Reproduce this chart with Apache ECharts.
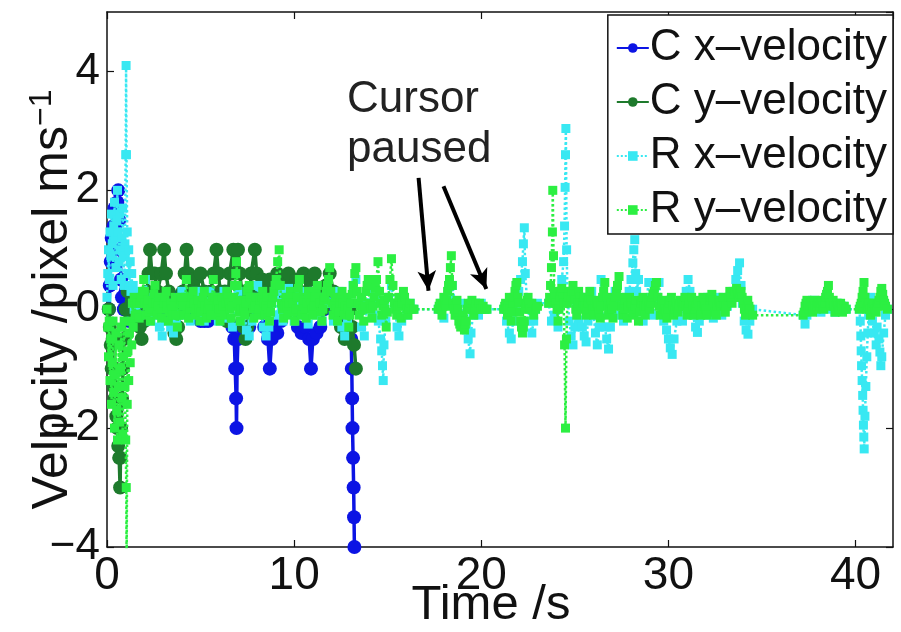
<!DOCTYPE html>
<html>
<head>
<meta charset="utf-8">
<script src="https://cdn.jsdelivr.net/npm/echarts@6/dist/echarts.min.js"></script>
<style>html,body{margin:0;padding:0;background:#fff}#c{width:901px;height:632px}</style>
</head>
<body>
<div id="c"></div>
<script>
// ---- data: [time (s), velocity (pixel/ms)] ----
const seriesNames = ['C x–velocity', 'C y–velocity', 'R x–velocity', 'R y–velocity'];

const cxVel = [[0.1,0],[0.15,0.4],[0.2,0.8],[0.25,1.2],[0.3,1.0],[0.35,1.4],[0.4,1.7],[0.45,1.4],[0.5,1.6],[0.55,1.8],[0.6,2.0],[0.65,1.5],[0.7,1.0],[0.75,0.5],[0.8,0.2],[0.9,0],[1.0,0.3],[1.1,0],[1.2,-0.2],[1.4,0],[1.6,0.2],[1.8,0],[2.0,0.1],[2.2,0],[2.5,0.2],[2.8,0],[3.0,-0.1],[3.3,0],[3.6,0.2],[3.9,0],[4.2,0.1],[4.5,0],[4.8,-0.1],[5.0,-0.2],[5.2,-0.2],[5.4,-0.2],[5.6,0],[5.9,0.2],[6.2,0],[6.5,-0.2],[6.7,-0.3],[6.8,-0.5],[6.85,-1.0],[6.9,-1.5],[6.92,-2.0],[6.95,-1.0],[7.0,-0.5],[7.2,-0.3],[7.4,-0.4],[7.6,-0.3],[7.8,0],[8.0,0.2],[8.2,0],[8.4,-0.3],[8.6,-0.5],[8.7,-1.0],[8.8,-0.5],[8.9,-0.3],[9.1,-0.4],[9.3,-0.2],[9.5,0],[9.8,0.2],[10.0,0],[10.2,-0.3],[10.4,-0.4],[10.6,-0.3],[10.8,-0.5],[10.9,-1.0],[11.0,-0.5],[11.2,-0.4],[11.4,-0.3],[11.6,0],[11.9,0.2],[12.2,0],[12.5,-0.2],[12.8,-0.4],[13.0,0],[13.05,-0.5],[13.08,-1.0],[13.1,-1.5],[13.12,-2.0],[13.15,-2.5],[13.18,-3.0],[13.2,-3.5],[13.22,-4.0]];

const cyVel = [[0.1,0],[0.15,-0.3],[0.2,-0.6],[0.25,-1.0],[0.3,-0.5],[0.35,-1.3],[0.4,-1.5],[0.45,-1.0],[0.5,-1.8],[0.55,-2.0],[0.6,-2.3],[0.65,-2.5],[0.7,-3.0],[0.72,-2.5],[0.75,-2.0],[0.8,-1.5],[0.85,-1.0],[0.9,-0.5],[1.0,0],[1.1,0.3],[1.2,0],[1.4,-0.2],[1.6,0],[1.75,-0.3],[1.85,-0.5],[2.0,-0.2],[2.15,0.3],[2.22,0.6],[2.3,1.0],[2.4,0.6],[2.55,0.6],[2.7,0.3],[2.9,0.6],[3.05,1.0],[3.15,0.6],[3.3,0.3],[3.45,-0.2],[3.6,-0.4],[3.7,-0.5],[3.8,-0.3],[3.9,0],[4.05,0.3],[4.15,0.6],[4.25,1.0],[4.35,0.6],[4.45,0.3],[4.6,0.5],[4.8,0.3],[5.0,0.6],[5.2,0.3],[5.4,0],[5.55,0.3],[5.7,0.6],[5.85,1.0],[5.95,0.6],[6.05,0.3],[6.15,0],[6.3,0.3],[6.4,-0.2],[6.55,0.6],[6.65,0.6],[6.75,1.0],[6.85,0.6],[7.0,1.0],[7.1,0.6],[7.2,0.3],[7.3,-0.3],[7.4,-0.5],[7.5,-0.3],[7.6,0],[7.7,0.6],[7.8,0.6],[7.9,1.0],[8.0,0.6],[8.1,0.3],[8.3,0.5],[8.5,0.3],[8.7,0.5],[8.9,0.3],[9.1,0.6],[9.3,0.3],[9.5,0.5],[9.7,0.6],[9.9,0.3],[10.1,0.5],[10.3,0.3],[10.5,0.6],[10.7,0.3],[10.9,0.5],[11.1,0.6],[11.3,0.3],[11.5,0],[11.7,0.4],[11.9,0.6],[12.1,0.3],[12.3,0],[12.5,-0.3],[12.7,-0.5],[12.8,-0.4],[13.0,0],[13.1,-0.3],[13.2,-0.6],[13.3,-1.0]];

const rxVel = [[0.0,0.2],[0.04,0.6],[0.08,1.0],[0.12,0.5],[0.16,1.3],[0.2,0.9],[0.24,1.6],[0.28,1.1],[0.32,0.4],[0.36,1.4],[0.4,1.8],[0.44,1.2],[0.48,0.7],[0.52,1.5],[0.56,2.0],[0.6,1.3],[0.64,0.8],[0.68,1.6],[0.72,1.0],[0.76,0.5],[0.8,1.2],[0.84,1.7],[0.88,0.9],[0.92,0.4],[0.96,1.1],[1.0,2.6],[1.02,4.1],[1.04,2.6],[1.08,1.3],[1.12,0.6],[1.16,1.0],[1.2,0.4],[1.24,0.8],[1.28,0.3],[1.32,0.6],[1.36,0.1],[1.4,0.4],[1.45,0],[1.5,0.2],
[1.6,0.3],[1.75,-0.1],[1.9,0.2],[2.05,0.5],[2.2,0.1],[2.35,-0.2],[2.5,0.2],[2.65,-0.1],[2.8,-0.3],[2.95,-0.45],[3.1,-0.2],[3.25,0.1],[3.4,-0.3],[3.55,-0.4],[3.7,-0.2],[3.85,0.1],[4.0,0.3],[4.15,-0.1],[4.3,0.2],[4.45,-0.2],[4.6,0.1],[4.75,0.3],[4.9,-0.1],[5.05,0.2],[5.2,-0.2],[5.35,0.1],[5.5,0.3],[5.65,-0.1],[5.8,0.2],[5.95,-0.2],[6.1,0.1],[6.25,0.3],[6.4,-0.15],[6.55,0.2],[6.7,-0.3],[6.85,0.1],[7.0,0.3],[7.15,-0.2],[7.3,0.1],[7.45,-0.35],[7.6,-0.45],[7.75,-0.2],[7.9,0.2],[8.05,0.4],[8.2,0.1],[8.35,-0.3],[8.5,-0.45],[8.65,-0.3],[8.8,0.1],[8.95,0.2],[9.1,-0.1],[9.25,0.3],[9.4,-0.2],[9.55,0.1],[9.7,0.35],[9.85,0.1],[10.0,-0.2],[10.15,0.1],[10.3,0.3],[10.45,-0.1],[10.6,0.2],[10.75,-0.25],[10.9,0.1],[11.05,0.3],[11.2,-0.1],[11.35,0.2],[11.5,-0.2],[11.65,0.1],[11.8,0.3],[11.95,0.1],[12.1,-0.2],[12.25,0.1],[12.4,0.3],[12.55,-0.3],[12.7,-0.45],[12.85,-0.2],[13.0,0.1],[13.15,0.4],[13.3,0.5],[13.45,0.1],[13.6,-0.3],[13.75,-0.45],[13.9,0.1],[14.05,0.3],[14.2,-0.1],[14.35,0.2],[14.5,-0.2],[14.62,-0.5],[14.68,-0.7],[14.72,-0.95],[14.76,-1.2],[14.8,-0.6],[14.9,-0.2],[15.05,0.2],[15.2,0.4],[15.35,0.1],[15.5,-0.3],[15.6,-0.45],[15.75,-0.2],[15.9,0.1],[16.05,-0.1],[16.2,0.1],[16.4,0],
[17.7,0],[17.85,0.1],[18.0,-0.15],[18.15,0.1],[18.3,0.2],[18.45,0.4],[18.6,0.1],[18.75,-0.1],[18.9,0.1],[19.05,-0.2],[19.2,-0.35],[19.3,-0.5],[19.4,-0.75],[19.45,-0.4],[19.55,-0.1],[19.7,0.1],[19.85,-0.1],[20.0,0.1],[20.15,0],[20.3,0],
[21.2,0],[21.35,-0.2],[21.5,-0.4],[21.6,-0.5],[21.7,-0.2],[21.85,0.1],[22.0,0.3],[22.1,0.5],[22.2,0.8],[22.25,1.1],[22.3,1.37],[22.35,0.6],[22.45,0.1],[22.6,-0.2],[22.7,-0.4],[22.8,-0.2],[22.9,0],[23.0,0.1],
[23.6,0.1],[23.75,-0.2],[23.9,-0.1],[24.0,0.1],[24.1,-0.3],[24.2,0.2],[24.3,0.5],[24.4,0.8],[24.45,1.4],[24.48,2.05],[24.5,2.6],[24.52,3.04],[24.56,1.0],[24.6,0.3],[24.7,-0.2],[24.8,-0.45],[24.9,-0.6],[25.0,-0.3],[25.1,0.1],[25.2,-0.2],[25.3,0.2],[25.4,-0.3],[25.5,-0.45],[25.6,-0.55],[25.7,-0.2],[25.8,0.1],[25.9,0.3],[26.0,-0.1],[26.1,-0.4],[26.2,-0.6],[26.3,-0.3],[26.4,0.5],[26.5,0.1],[26.6,-0.3],[26.7,-0.5],[26.8,-0.67],[26.9,-0.3],[27.0,0.1],[27.15,0.3],[27.3,-0.1],[27.45,0.2],[27.6,-0.2],[27.75,0.1],[27.9,0.3],[28.0,0.5],[28.1,0.78],[28.15,1.0],[28.2,1.17],[28.25,0.6],[28.3,0.3],[28.4,0.5],[28.5,0.1],[28.65,-0.2],[28.8,0.1],[28.95,0.45],[29.05,0.2],[29.2,-0.1],[29.35,0.2],[29.5,0.45],[29.6,0.1],[29.75,-0.2],[29.9,-0.35],[30.0,-0.5],[30.1,-0.65],[30.2,-0.76],[30.3,-0.5],[30.45,-0.2],[30.6,0.1],[30.75,-0.2],[30.85,0.1],[30.95,0.3],[31.05,0.5],[31.15,0.3],[31.3,-0.1],[31.45,-0.3],[31.55,-0.39],[31.65,-0.2],[31.8,0.1],[31.95,-0.1],[32.1,0.2],[32.25,0.05],[32.4,-0.15],[32.55,0.1],[32.7,0.2],[32.85,-0.1],[33.0,0.15],[33.15,0.05],[33.3,0.2],[33.45,0.3],[33.6,0.5],[33.7,0.65],[33.8,0.78],[33.88,0.4],[33.95,0.1],[34.05,-0.2],[34.15,-0.35],[34.25,-0.42],[34.35,-0.2],[34.5,0],
[37.2,-0.1],[37.3,-0.25],[37.4,-0.1],[37.55,0.05],[37.7,0.15],[37.85,0],[38.0,0.1],[38.15,-0.05],[38.3,0.1],[38.45,0],[38.6,0.15],[38.75,0.05],[38.9,-0.05],[39.05,0.1],[39.2,0],[39.35,0.05],[39.5,0],
[40.2,0],[40.25,-0.2],[40.28,-0.45],[40.3,-0.7],[40.32,-0.95],[40.35,-1.2],[40.38,-1.45],[40.4,-1.7],[40.42,-1.95],[40.44,-2.15],[40.46,-2.35],[40.5,-1.8],[40.55,-1.3],[40.6,-0.8],[40.65,-0.4],[40.7,-0.1],[40.8,0.2],[40.9,-0.2],[41.0,-0.4],[41.1,-0.6],[41.15,-0.3],[41.25,-0.5],[41.3,-0.72],[41.35,-0.95],[41.4,-0.8],[41.5,-0.4],[41.6,-0.1],[41.7,0]];

const ryVel = [[0.0,0],[0.04,-0.3],[0.08,-0.8],[0.12,-0.2],[0.16,-1.2],[0.2,-0.5],[0.24,-1.6],[0.28,-0.9],[0.32,-0.2],[0.36,-1.4],[0.4,-2.0],[0.44,-1.1],[0.48,-0.4],[0.52,-1.7],[0.56,-2.2],[0.6,-1.3],[0.64,-0.6],[0.68,-1.9],[0.72,-1.0],[0.76,-0.3],[0.8,-1.5],[0.84,-2.1],[0.88,-0.8],[0.92,-0.2],[0.96,-1.3],[1.0,-2.2],[1.03,-3.0],[1.05,-4.5],[1.08,-1.6],[1.12,-0.7],[1.16,-1.2],[1.2,-0.4],[1.24,-0.9],[1.28,-0.2],[1.32,-0.6],[1.36,0.1],[1.4,-0.3],[1.45,0.2],[1.5,-0.1],
[1.6,0.1],[1.66,-0.1],[1.72,-0.15],[1.78,0.1],[1.84,0.2],[1.9,0.3],[1.96,0.5],[2.0,0.3],[2.04,0.1],[2.08,-0.1],[2.14,0.05],[2.2,0.15],[2.26,-0.05],[2.32,-0.2],[2.38,0],[2.44,0.1],[2.5,0.25],[2.56,0.4],[2.62,0.1],[2.68,-0.1],[2.74,0.05],[2.8,0.2],[2.86,0],[2.92,-0.15],[2.98,0],[3.04,0.1],[3.1,0.2],[3.16,0.3],[3.22,0.05],[3.28,-0.2],[3.34,-0.05],[3.4,0.1],[3.46,0],[3.52,-0.1],[3.58,0.05],[3.64,0.2],[3.7,-0.1],[3.76,-0.3],[3.82,-0.1],[3.88,0.1],[3.94,0.15],[4.0,0.2],[4.06,0.05],[4.12,-0.1],[4.18,0.2],[4.24,0.5],[4.3,0.2],[4.36,-0.15],[4.42,0],[4.48,0.1],[4.54,0.2],[4.6,0.3],[4.66,0.1],[4.72,-0.1],[4.78,0],[4.84,0.15],[4.9,0],[4.96,-0.2],[5.02,-0.05],[5.08,0.1],[5.14,0.2],[5.2,0.3],[5.26,0.05],[5.32,-0.15],[5.38,0],[5.44,0.1],[5.5,0],[5.56,-0.1],[5.62,0.2],[5.68,0.5],[5.75,0.2],[5.8,-0.1],[5.86,0.05],[5.92,0.15],[5.98,0],[6.04,-0.2],[6.1,0],[6.16,0.2],[6.22,0.05],[6.28,-0.1],[6.34,0.1],[6.4,0.3],[6.46,0.2],[6.52,0.1],[6.58,0],[6.64,-0.15],[6.7,0.05],[6.76,0.2],[6.82,0.4],[6.88,0.6],[6.92,0.8],[6.96,0.4],[7.0,0.1],[7.06,-0.05],[7.12,-0.2],[7.18,0],[7.24,0.15],[7.3,0],[7.36,-0.1],[7.42,0.1],[7.48,0.3],[7.54,0.35],[7.6,0.4],[7.66,0.2],[7.72,0.1],[7.78,0],[7.84,-0.15],[7.9,0.05],[7.96,0.2],[8.02,0.05],[8.08,-0.1],[8.14,0],[8.2,0.15],[8.26,0.2],[8.32,0.3],[8.38,0.1],[8.44,-0.1],[8.5,0.05],[8.56,0.2],[8.62,0],[8.68,-0.2],[8.74,-0.05],[8.8,0.1],[8.86,0.2],[8.92,0.3],[8.98,0.4],[9.04,0.5],[9.12,0.8],[9.2,1.0],[9.26,0.4],[9.32,0.1],[9.38,0],[9.44,-0.15],[9.5,0.05],[9.56,0.2],[9.62,0.05],[9.68,-0.1],[9.74,0.1],[9.8,0.3],[9.86,0.2],[9.92,0.1],[9.98,-0.05],[10.04,-0.2],[10.1,0],[10.16,0.2],[10.22,0.35],[10.28,0.5],[10.34,0.2],[10.4,-0.1],[10.46,0.05],[10.52,0.15],[10.58,0],[10.64,-0.15],[10.7,0.1],[10.76,0.3],[10.82,0.2],[10.88,0.1],[10.94,0],[11.0,-0.1],[11.06,0.05],[11.12,0.2],[11.18,0.3],[11.24,0.4],[11.3,0.2],[11.36,0.1],[11.42,-0.05],[11.48,-0.2],[11.54,0],[11.6,0.15],[11.66,0.2],[11.72,0.3],[11.78,0.4],[11.84,0.5],[11.9,0.7],[11.96,0.3],[12.02,0.1],[12.08,-0.1],[12.14,0.05],[12.2,0.2],[12.26,0],[12.32,-0.2],[12.38,-0.05],[12.44,0.1],[12.5,0.2],[12.56,0.3],[12.62,0.1],[12.68,-0.1],[12.74,0.05],[12.8,0.2],[12.86,0],[12.92,-0.3],[12.98,-0.1],[13.04,0.1],[13.1,0.25],[13.16,0.4],[13.24,0.6],[13.3,0.7],[13.36,0.3],[13.42,0.1],[13.48,-0.1],[13.54,0.05],[13.6,0.2],[13.66,0],[13.72,-0.2],[13.78,0.05],[13.84,0.3],[13.9,0.4],[13.96,0.5],[14.04,0.1],[14.1,0],[14.16,-0.15],[14.22,0.05],[14.28,0.2],[14.34,0.35],[14.4,0.5],[14.48,0.8],[14.56,0.3],[14.62,0.1],[14.68,-0.1],[14.74,0.05],[14.8,0.15],[14.86,0],[14.92,-0.3],[14.98,-0.05],[15.04,0.2],[15.12,0.5],[15.2,0.85],[15.28,0.4],[15.36,0.1],[15.42,0],[15.48,-0.1],[15.54,0.05],[15.6,0.2],[15.66,0.05],[15.72,-0.15],[15.78,0.1],[15.84,0.3],[15.9,0.2],[15.96,0.1],[16.02,0],[16.08,-0.1],[16.14,0],[16.2,0.1],[16.3,0],[16.4,0],
[17.7,0],[17.75,0.05],[17.8,0.1],[17.85,0],[17.9,-0.1],[17.95,0.05],[18.0,0.2],[18.05,0.1],[18.1,0.05],[18.15,0.15],[18.2,0.3],[18.25,0.4],[18.3,0.5],[18.35,0.7],[18.4,0.9],[18.45,0.4],[18.5,0.1],[18.55,0],[18.6,-0.1],[18.65,0.05],[18.7,0.15],[18.75,0],[18.8,-0.2],[18.85,-0.25],[18.9,-0.3],[18.95,-0.2],[19.0,-0.1],[19.05,-0.2],[19.1,-0.35],[19.15,-0.25],[19.2,-0.2],[19.25,0],[19.3,0.1],[19.35,0.05],[19.4,0],[19.45,0.1],[19.5,0.15],[19.55,0],[19.6,-0.1],[19.65,0],[19.7,0.1],[19.8,0],[19.9,0.1],[20.0,0],[20.1,0.05],[20.2,0],[20.3,0],
[21.2,0],[21.25,0.05],[21.3,0.1],[21.35,0],[21.4,-0.1],[21.45,0.05],[21.5,0.2],[21.55,0],[21.6,-0.2],[21.65,-0.05],[21.7,0.1],[21.75,0.2],[21.8,0.3],[21.85,0.4],[21.9,0.45],[21.95,0.2],[22.0,0.1],[22.05,-0.05],[22.1,-0.2],[22.15,-0.3],[22.2,-0.4],[22.25,-0.3],[22.3,-0.2],[22.35,0],[22.4,0.1],[22.45,0.15],[22.5,0.2],[22.55,0.1],[22.6,0],[22.7,0.1],[22.8,-0.1],[22.9,0],[23.0,0.05],
[23.6,0.1],[23.65,0.2],[23.7,0.4],[23.75,0.7],[23.8,1.3],[23.82,2.0],[23.86,0.9],[23.9,0.3],[23.95,0.2],[24.0,0.1],[24.05,0],[24.1,-0.2],[24.15,0],[24.2,0.2],[24.25,0.3],[24.3,0.35],[24.35,0.2],[24.4,0.1],[24.45,-0.6],[24.5,-2.0],[24.55,-0.5],[24.6,0.1],[24.65,0.2],[24.7,0.3],[24.75,0.2],[24.8,0.2],[24.85,0.3],[24.9,0.4],[24.95,0.25],[25.0,0.15],[25.05,0],[25.1,-0.1],[25.15,0.1],[25.2,0.3],[25.25,0.2],[25.3,0.1],[25.35,0.05],[25.4,0],[25.45,0.1],[25.5,0.2],[25.55,0.05],[25.6,-0.1],[25.65,0],[25.7,0.1],[25.75,0.2],[25.8,0.3],[25.85,0.15],[25.9,0.05],[25.95,0],
[26.0,-0.1],[26.06,0.05],[26.12,0.15],[26.18,0.1],[26.24,0.05],[26.3,-0.05],[26.36,-0.15],[26.42,0.05],[26.48,0.2],[26.54,0.3],[26.6,0.45],[26.7,0.2],[26.75,0.05],[26.8,-0.1],[26.86,0],[26.92,0.1],[26.98,0],[27.04,-0.15],[27.1,0.05],[27.16,0.2],[27.22,0.3],[27.28,0.4],[27.36,0.55],[27.44,0.2],[27.5,0.05],[27.56,-0.1],[27.62,0],[27.68,0.1],[27.74,0],[27.8,-0.15],[27.86,0.05],[27.92,0.2],[27.98,0.1],[28.04,0.05],[28.1,-0.05],[28.16,-0.1],[28.22,0.05],[28.28,0.15],[28.34,0],[28.4,-0.2],[28.46,-0.05],[28.52,0.1],[28.58,0.15],[28.64,0.2],[28.7,0.05],[28.76,-0.1],[28.82,0.05],[28.88,0.15],[28.94,0.05],[29.0,0],[29.06,0.1],[29.12,0.2],[29.18,0.25],[29.24,0.3],[29.3,0.4],[29.36,0.45],[29.44,0.2],[29.5,0.05],[29.56,-0.1],[29.62,0.05],[29.68,0.15],[29.74,0.05],[29.8,0],[29.86,-0.05],[29.92,-0.15],[29.98,0],[30.04,0.1],[30.1,0.15],[30.16,0.2],[30.22,0.05],[30.28,-0.1],[30.34,0],[30.4,0.1],[30.46,0.05],[30.52,-0.05],[30.58,0.05],[30.64,0.15],[30.7,0.1],[30.76,0.05],[30.82,0.1],[30.88,0.2],[30.94,0.05],[31.0,-0.1],[31.06,0],[31.12,0.1],[31.18,0.15],[31.24,0.2],[31.3,0.05],[31.36,-0.1],[31.42,0],[31.48,0.05],[31.54,0.1],[31.6,0.15],[31.66,0.05],[31.72,-0.1],[31.78,0.05],[31.84,0.2],[31.9,0.1],[31.96,0.05],[32.02,0],[32.08,-0.1],[32.14,0.05],[32.2,0.15],[32.26,0.2],[32.32,0.25],[32.38,0.15],[32.44,0.05],[32.5,-0.05],[32.56,-0.1],[32.62,0.05],[32.68,0.15],[32.74,0.1],[32.8,0.05],[32.86,0.1],[32.92,0.2],[32.98,0.05],[33.04,-0.05],[33.1,0.05],[33.16,0.15],[33.22,0.2],[33.28,0.3],[33.34,0.2],[33.4,0.1],[33.46,0.2],[33.52,0.25],[33.58,0.3],[33.64,0.35],[33.7,0.25],[33.76,0.2],[33.82,0.25],[33.88,0.3],[33.94,0.2],[34.0,0.1],[34.06,0],[34.12,-0.1],[34.18,0.05],[34.24,0.15],[34.3,0.05],[34.36,0],[34.5,-0.1],
[37.2,-0.1],[37.25,-0.05],[37.3,0.05],[37.35,0.1],[37.4,0.15],[37.45,0.05],[37.5,0],[37.55,0.05],[37.6,0.1],[37.65,0.05],[37.7,-0.05],[37.75,0.05],[37.8,0.15],[37.85,0.05],[37.9,0],[37.95,0.05],[38.0,0.1],[38.05,0.1],[38.1,0.05],[38.15,0.1],[38.2,0.15],[38.25,0.05],[38.3,0],[38.35,0.1],[38.4,0.2],[38.45,0.25],[38.5,0.3],[38.55,0.4],[38.6,0.2],[38.65,0.1],[38.7,0.05],[38.75,0.1],[38.8,0.15],[38.85,0.05],[38.9,-0.05],[38.95,0.05],[39.0,0.1],[39.05,0.05],[39.1,0],[39.15,0.05],[39.2,0.1],[39.25,0.05],[39.3,-0.05],[39.35,0],[39.4,0.05],[39.5,0],
[40.2,0],[40.25,0.05],[40.3,0.1],[40.35,0.2],[40.4,0.3],[40.45,0.45],[40.5,0.2],[40.55,0.1],[40.6,0],[40.65,0.05],[40.7,0.1],[40.75,0],[40.8,-0.1],[40.85,0],[40.9,0.05],[40.95,0.1],[41.0,0.1],[41.05,0],[41.1,-0.05],[41.15,0.05],[41.2,0.1],[41.25,0.15],[41.3,0.2],[41.35,0.3],[41.4,0.35],[41.45,0.25],[41.5,0.15],[41.55,0.1],[41.6,0.05],[41.7,0]];

// annotation: "Cursor paused" arrows, [start, end] in data units
const annotationText = 'Cursor\npaused';
const pauseArrows = [[[16.65, 2.21], [17.18, 0.31]], [[17.98, 2.07], [20.27, 0.34]]];

const xRange = [0, 42], xStep = 10;
const yRange = [-4, 5], yStep = 2;

// ---- chart ----
const FONT = 'Liberation Sans';
const fmt = v => (v < 0 ? '−' + Math.abs(v) : String(v));
const colors = ['#0c14e4', '#1e7a2c', '#38e8f2', '#2cef42'];

const chart = echarts.init(document.getElementById('c'), null, { renderer: 'canvas' });

function cSeries(i, data) {
  return {
    name: seriesNames[i], type: 'line', data: data, z: 2 + i,
    symbol: 'circle', symbolSize: 14, showSymbol: true,
    itemStyle: { color: colors[i] },
    lineStyle: { color: colors[i], width: 3.5 }
  };
}
function rSeries(i, data) {
  return {
    name: seriesNames[i], type: 'line', data: data, z: 2 + i,
    symbol: 'rect', symbolSize: 9, showSymbol: true,
    itemStyle: { color: colors[i] },
    lineStyle: { color: colors[i], width: 2.5, type: 'dotted' }
  };
}

const axisCommon = {
  type: 'value',
  axisLine: { show: true, onZero: false, lineStyle: { color: '#111', width: 1.5 } },
  axisTick: { show: true, inside: true, length: 7, lineStyle: { color: '#111', width: 1.2 } },
  splitLine: { show: false }
};

chart.setOption({
  animation: false,
  backgroundColor: '#fff',
  textStyle: { fontFamily: FONT },
  grid: { left: 107, right: 8, top: 12, bottom: 85, containLabel: false, outerBoundsMode: 'none' },
  xAxis: [
    Object.assign({}, axisCommon, {
      position: 'bottom', min: xRange[0], max: xRange[1], interval: xStep,
      axisLabel: { fontSize: 46, color: '#111', fontFamily: FONT, margin: 6, showMaxLabel: false, formatter: fmt },
      name: 'Time /s', nameLocation: 'middle', nameGap: 34, nameMoveOverlap: false,
      nameTextStyle: { fontSize: 49, color: '#111', fontFamily: FONT, padding: [0, 18, 0, 0] }
    }),
    Object.assign({}, axisCommon, {
      position: 'top', min: xRange[0], max: xRange[1], interval: xStep,
      axisLabel: { show: false }
    })
  ],
  yAxis: [
    Object.assign({}, axisCommon, {
      position: 'left', min: yRange[0], max: yRange[1], interval: yStep,
      axisLabel: { fontSize: 44, color: '#111', fontFamily: FONT, margin: 7, showMaxLabel: false, formatter: fmt },
      name: 'Velpcity /pixel ms{sup|−1}', nameLocation: 'middle', nameGap: 27, nameMoveOverlap: false,
      nameTextStyle: {
        fontSize: 50, color: '#111', fontFamily: FONT, padding: [0, 40, 0, 0],
        rich: { sup: { fontSize: 32, fontFamily: FONT, color: '#111', verticalAlign: 'top', padding: [0, 0, 22, 0] } }
      }
    }),
    Object.assign({}, axisCommon, {
      position: 'right', min: yRange[0], max: yRange[1], interval: yStep,
      axisLabel: { show: false }
    })
  ],
  legend: {
    data: seriesNames,
    orient: 'vertical', right: 8, top: 15,
    backgroundColor: '#fff', borderColor: '#111', borderWidth: 1.5, borderRadius: 0,
    padding: [11, 6, 2, 8], itemGap: 10, itemWidth: 32, itemHeight: 12,
    textStyle: { fontSize: 44, color: '#111', fontFamily: FONT, padding: [0, 0, 0, -4] }
  },
  graphic: [{
    type: 'text', left: 347, top: 75, z: 20,
    style: { text: annotationText, font: '44px "Liberation Sans"', fill: '#222', lineHeight: 50 }
  }],
  series: [
    cSeries(0, cxVel),
    cSeries(1, cyVel),
    rSeries(2, rxVel),
    rSeries(3, ryVel),
    {
      name: 'annotation', type: 'line', data: [], z: 10, silent: true,
      markLine: {
        silent: true, symbol: ['none', 'arrow'], symbolSize: [14, 20],
        label: { show: false },
        lineStyle: { color: '#000', width: 4, type: 'solid' },
        data: pauseArrows.map(a => [{ coord: a[0] }, { coord: a[1] }])
      }
    }
  ]
});
</script>
</body>
</html>
